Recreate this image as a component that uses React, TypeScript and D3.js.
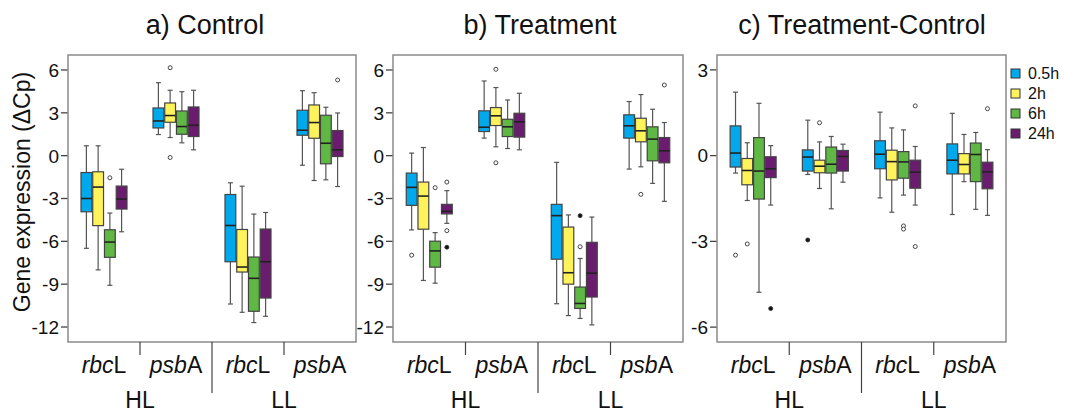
import React from "react";
import * as d3 from "d3";

const groups = ["HL-rbcL", "HL-psbA", "LL-rbcL", "LL-psbA"];
const series = ["0.5h", "2h", "6h", "24h"];
const seriesColors = ["#00A9EC", "#FFF35C", "#5FB843", "#6A1C6E"];

// [lowerWhisker, q1, median, q3, upperWhisker] per series (rows) x group (cols)
const controlStats: number[][][] = [
  [[-6.49, -3.93, -3.0, -1.18, 0.69], [1.48, 1.94, 2.43, 3.34, 5.11], [-10.39, -7.43, -4.89, -2.72, -1.9], [-0.67, 1.43, 1.78, 3.18, 4.55]],
  [[-8.0, -4.9, -2.2, -1.13, 0.69], [1.27, 2.34, 2.81, 3.69, 4.58], [-10.97, -8.15, -7.8, -5.17, -2.14], [-1.74, 1.22, 2.32, 3.55, 4.41]],
  [[-9.08, -7.12, -6.05, -5.19, -4.02], [0.9, 1.5, 2.04, 3.13, 4.48], [-11.69, -10.9, -8.59, -7.1, -4.09], [-1.69, -0.57, 0.87, 2.83, 3.39]],
  [[-5.33, -3.74, -3.04, -2.13, -0.95], [0.41, 1.34, 2.13, 3.41, 4.58], [-11.25, -9.97, -7.43, -5.14, -3.98], [-2.16, -0.06, 0.41, 1.76, 2.99]],
];
const treatmentStats: number[][][] = [
  [[-5.2, -3.48, -2.22, -1.22, 0.18], [1.23, 1.69, 1.99, 3.14, 5.23], [-10.37, -7.25, -4.2, -3.41, -0.47], [-0.94, 1.23, 2.09, 2.86, 3.79]],
  [[-8.74, -5.15, -2.83, -1.85, 0.57], [0.62, 2.11, 2.79, 3.37, 4.77], [-11.2, -9.0, -8.2, -5.0, -4.15], [-0.78, 0.97, 1.74, 2.62, 4.28]],
  [[-8.93, -7.81, -6.67, -5.99, -5.39], [0.5, 1.34, 2.02, 2.55, 3.9], [-11.4, -10.7, -10.35, -9.2, -7.2], [-1.94, -0.36, 1.16, 2.02, 3.25]],
  [[-4.74, -4.08, -3.9, -3.41, -2.45], [0.41, 1.3, 2.37, 2.97, 4.37], [-11.85, -9.9, -8.23, -6.07, -4.3], [-3.2, -0.5, 0.34, 1.27, 2.32]],
];
const diffStats: number[][][] = [
  [[-0.61, -0.4, 0.09, 1.04, 2.22], [-0.66, -0.54, -0.05, 0.2, 1.24], [-1.48, -0.46, 0.05, 0.52, 1.52], [-2.06, -0.64, -0.16, 0.41, 1.48]],
  [[-1.57, -1.02, -0.52, -0.1, 0.45], [-1.15, -0.6, -0.37, -0.16, 0.48], [-1.98, -0.85, -0.21, 0.19, 0.97], [-0.91, -0.64, -0.31, 0.07, 0.74]],
  [[-4.78, -1.52, -0.54, 0.63, 1.83], [-1.86, -0.61, -0.3, 0.3, 0.67], [-1.38, -0.79, -0.22, 0.14, 0.9], [-1.88, -0.91, 0.04, 0.44, 0.81]],
  [[-1.73, -0.77, -0.46, -0.04, 0.35], [-0.93, -0.54, -0.03, 0.18, 0.4], [-1.73, -1.14, -0.58, -0.16, 0.32], [-2.09, -1.16, -0.57, -0.23, 0.21]],
];

// outliers: [groupIndex, seriesIndex, value, filled(1)/open(0)]
const controlOutliers: number[][] = [
  [0, 2, -1.55, 0], [1, 1, 6.16, 0], [1, 1, -0.13, 0], [3, 3, 5.3, 0],
];
const treatmentOutliers: number[][] = [
  [0, 0, -6.97, 0], [0, 2, -2.24, 0], [0, 3, -1.85, 0], [0, 3, -5.25, 0], [0, 3, -6.41, 1],
  [1, 1, 6.05, 0], [1, 1, -0.5, 0], [2, 2, -4.2, 1], [2, 2, -6.38, 0], [3, 1, -2.71, 0], [3, 3, 4.95, 0],
];
const diffOutliers: number[][] = [
  [0, 0, -3.48, 0], [0, 1, -3.09, 0], [0, 3, -5.35, 1], [1, 0, -2.95, 1], [1, 1, 1.15, 0],
  [2, 2, -2.46, 0], [2, 2, -2.57, 0], [2, 3, 1.74, 0], [2, 3, -3.18, 0], [3, 3, 1.64, 0],
];

const wideTicks = [6, 3, 0, -3, -6, -9, -12];
const narrowTicks = [3, 0, -3, -6];

const FONT = "'Liberation Sans', Arial, sans-serif";
const TOP = 55;
const BOTTOM = 342;

interface PanelProps {
  title: string;
  titleX: number;
  left: number;
  right: number;
  domain: [number, number];
  ticks: number[];
  stats: number[][][];
  outliers: number[][];
}

function GeneLabel({ x, y, italic, plain }: { x: number; y: number; italic: string; plain: string }) {
  return (
    <text x={x} y={y} textAnchor="middle" fontSize={23} fontFamily={FONT} fill="#111">
      <tspan fontStyle="italic">{italic}</tspan>
      <tspan>{plain}</tspan>
    </text>
  );
}

function Panel({ title, titleX, left, right, domain, ticks, stats, outliers }: PanelProps) {
  const y = d3.scaleLinear().domain(domain).range([BOTTOM, TOP]);
  const x = d3.scaleBand<string>().domain(groups).range([left, right]);
  const inner = d3.scaleBand<string>().domain(series).range([-23, 23]).paddingInner(0.08);
  const bw = inner.bandwidth();
  const center = (g: number, s: number) => (x(groups[g]) as number) + x.bandwidth() / 2 + (inner(series[s]) as number) + bw / 2;
  const capW = 5;

  return (
    <g>
      <text x={titleX} y={34} textAnchor="middle" fontSize={27} fontFamily={FONT} fill="#111">{title}</text>
      {/* y ticks */}
      {ticks.map((t) => (
        <g key={t}>
          <line x1={left - 7} x2={left} y1={y(t)} y2={y(t)} stroke="#444" strokeWidth={1.3} />
          <text x={left - 9} y={y(t)} dy="0.36em" textAnchor="end" fontSize={19} fontFamily={FONT} fill="#111">{t}</text>
        </g>
      ))}
      {/* boxes */}
      {stats.map((row, s) =>
        row.map((st, g) => {
          const cx = center(g, s);
          const [lo, q1, med, q3, hi] = st;
          return (
            <g key={`${s}-${g}`}>
              <line x1={cx} x2={cx} y1={y(hi)} y2={y(q3)} stroke="#555" strokeWidth={1.2} />
              <line x1={cx} x2={cx} y1={y(q1)} y2={y(lo)} stroke="#555" strokeWidth={1.2} />
              <line x1={cx - capW / 2} x2={cx + capW / 2} y1={y(hi)} y2={y(hi)} stroke="#555" strokeWidth={1.2} />
              <line x1={cx - capW / 2} x2={cx + capW / 2} y1={y(lo)} y2={y(lo)} stroke="#555" strokeWidth={1.2} />
              <rect x={cx - bw / 2} y={y(q3)} width={bw} height={y(q1) - y(q3)} fill={seriesColors[s]} stroke="#444" strokeWidth={1.2} />
              <line x1={cx - bw / 2} x2={cx + bw / 2} y1={y(med)} y2={y(med)} stroke="#222" strokeWidth={1.6} />
            </g>
          );
        })
      )}
      {outliers.map((o, i) => (
        <circle key={i} cx={center(o[0], o[1])} cy={y(o[2])} r={2} fill={o[3] ? "#111" : "#fff"} stroke="#333" strokeWidth={0.9} />
      ))}
      {/* frame */}
      <rect x={left} y={TOP} width={right - left} height={BOTTOM - TOP} fill="none" stroke="#8a8a8a" strokeWidth={1.5} />
      {/* x separators */}
      {[1, 2, 3].map((i) => {
        const xx = x(groups[i]) as number;
        return <line key={i} x1={xx} x2={xx} y1={BOTTOM} y2={i === 2 ? 393 : 355} stroke="#444" strokeWidth={1.2} />;
      })}
      {groups.map((g, i) => {
        const cx = (x(g) as number) + x.bandwidth() / 2;
        return i % 2 === 0 ? (
          <GeneLabel key={g} x={cx} y={373} italic="rbc" plain="L" />
        ) : (
          <GeneLabel key={g} x={cx} y={373} italic="psb" plain="A" />
        );
      })}
      <text x={(left + (x(groups[2]) as number)) / 2} y={408} textAnchor="middle" fontSize={23} fontFamily={FONT} fill="#111">HL</text>
      <text x={((x(groups[2]) as number) + right) / 2} y={408} textAnchor="middle" fontSize={23} fontFamily={FONT} fill="#111">LL</text>
    </g>
  );
}

export default function App() {
  return (
    <svg width={1079} height={412} style={{ position: "absolute", left: 0, top: 0, background: "#fff" }}>
      <rect width={1079} height={412} fill="#fff" />
      <text transform="translate(30,192) rotate(-90)" textAnchor="middle" fontSize={23} fontFamily={FONT} fill="#111">
        Gene expression (ΔCp)
      </text>
      <Panel title="a) Control" titleX={205} left={68} right={356} domain={[-13.05, 7.05]} ticks={wideTicks} stats={controlStats} outliers={controlOutliers} />
      <Panel title="b) Treatment" titleX={540} left={393} right={683} domain={[-13.05, 7.05]} ticks={wideTicks} stats={treatmentStats} outliers={treatmentOutliers} />
      <Panel title="c) Treatment-Control" titleX={862} left={717} right={1006} domain={[-6.52, 3.52]} ticks={narrowTicks} stats={diffStats} outliers={diffOutliers} />
      {series.map((s, i) => (
        <g key={s}>
          <rect x={1011} y={69 + i * 20} width={9} height={9} fill={seriesColors[i]} stroke="#333" strokeWidth={1} />
          <text x={1028} y={79 + i * 20} fontSize={16} fontFamily={FONT} fill="#111">{s}</text>
        </g>
      ))}
    </svg>
  );
}
